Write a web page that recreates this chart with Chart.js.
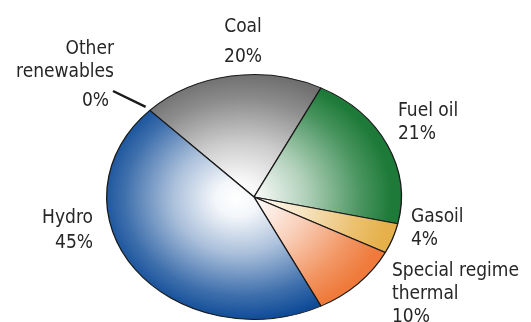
<!DOCTYPE html>
<html>
<head>
<meta charset="utf-8">
<script src="https://cdn.jsdelivr.net/npm/chart.js@4"></script>
<style>
  html, body { margin: 0; padding: 0; background: #fff; }
  #wrap { width: 531px; height: 322px; }
</style>
</head>
<body>
<div id="wrap"><canvas id="energyChart"></canvas></div>
<script>
// electricity generation by source, share of total (%)
const sources = ['Coal', 'Fuel oil', 'Gasoil', ['Special regime', 'thermal'], 'Hydro', ['Other', 'renewables']];
const shares = [20, 21, 4, 10, 45, 0];
const edgeColors = ['#6f6f70', '#1d7a38', '#e6b04a', '#ef7a3b', '#0e4b97', '#0e4b97'];

const FONT = '19px "DejaVu Sans Condensed", "DejaVu Sans", sans-serif';

// mix a hex colour towards white
function tint(hex, t) {
  const n = parseInt(hex.slice(1), 16);
  const ch = [n >> 16, (n >> 8) & 255, n & 255].map(v => Math.round(v + (255 - v) * t));
  return `rgb(${ch[0]},${ch[1]},${ch[2]})`;
}

function shade(c) {
  const area = c.chart.chartArea;
  if (!area) return edgeColors[c.dataIndex];
  const cx = (area.left + area.right) / 2;
  const cy = (area.top + area.bottom) / 2;
  const r = Math.min(area.right - area.left, area.bottom - area.top) / 2;
  const col = edgeColors[c.dataIndex];
  const g = c.chart.ctx.createRadialGradient(cx - 18, cy + 2, 0, cx - 10, cy, r);
  g.addColorStop(0, '#ffffff');
  g.addColorStop(0.15, tint(col, 0.95));
  g.addColorStop(0.45, tint(col, 0.65));
  g.addColorStop(0.8, tint(col, 0.2));
  g.addColorStop(1, col);
  return g;
}

// draws the pie as an ellipse by squashing it vertically
const squash = {
  id: 'squash',
  beforeDatasetsDraw(chart, args, opts) {
    const arc = chart.getDatasetMeta(0).data[0];
    const ctx = chart.ctx;
    ctx.save();
    ctx.translate(arc.x, opts.centerY);
    ctx.scale(1, opts.ratio);
    ctx.translate(-arc.x, -arc.y);
  },
  afterDatasetsDraw(chart) {
    chart.ctx.restore();
  }
};

// slice labels: x, baselines for each line, alignment
const labelLayout = [
  { x: 243, ys: [32, 62], align: 'center' },
  { x: 398, ys: [116, 139], align: 'left' },
  { x: 411, ys: [222, 245], align: 'left' },
  { x: 392, ys: [276, 299, 322], align: 'left' },
  { x: 93, ys: [223, 248], align: 'right' },
  { x: 114, ys: [54, 77, 106], align: 'right', pctX: 109, leader: true }
];

const sliceLabels = {
  id: 'sliceLabels',
  afterDraw(chart) {
    const ctx = chart.ctx;
    const opts = chart.options.plugins.squash;
    const arcs = chart.getDatasetMeta(0).data;
    ctx.save();
    ctx.font = FONT;
    ctx.fillStyle = '#262626';
    ctx.textBaseline = 'alphabetic';
    labelLayout.forEach((lay, i) => {
      const name = [].concat(chart.data.labels[i]);
      const lines = name.concat(chart.data.datasets[0].data[i] + '%');
      ctx.textAlign = lay.align;
      lines.forEach((txt, k) => {
        const isPct = k === lines.length - 1;
        const x = isPct && lay.pctX ? lay.pctX : lay.x;
        ctx.fillText(txt, x, lay.ys[k]);
      });
      if (lay.leader) {
        const a = arcs[i];
        const ang = a.startAngle;
        const ex = a.x + Math.cos(ang) * a.outerRadius * 1.04;
        const ey = opts.centerY + Math.sin(ang) * a.outerRadius * opts.ratio * 1.04;
        ctx.strokeStyle = '#1a1a1a';
        ctx.lineWidth = 2.4;
        ctx.beginPath();
        ctx.moveTo(lay.pctX + 4, lay.ys[2] - 15);
        ctx.lineTo(ex, ey);
        ctx.stroke();
      }
    });
    ctx.restore();
  }
};

new Chart(document.getElementById('energyChart'), {
  type: 'pie',
  data: {
    labels: sources,
    datasets: [{
      data: shares,
      backgroundColor: shade,
      borderColor: '#1a1a1a',
      borderWidth: 1.3
    }]
  },
  options: {
    responsive: true,
    maintainAspectRatio: false,
    animation: false,
    rotation: -45,
    layout: { padding: { left: 106, right: 129, top: 12, bottom: 12 } },
    plugins: {
      legend: { display: false },
      tooltip: { enabled: false },
      squash: { centerY: 197, ratio: 123 / 148 }
    }
  },
  plugins: [squash, sliceLabels]
});
</script>
</body>
</html>
